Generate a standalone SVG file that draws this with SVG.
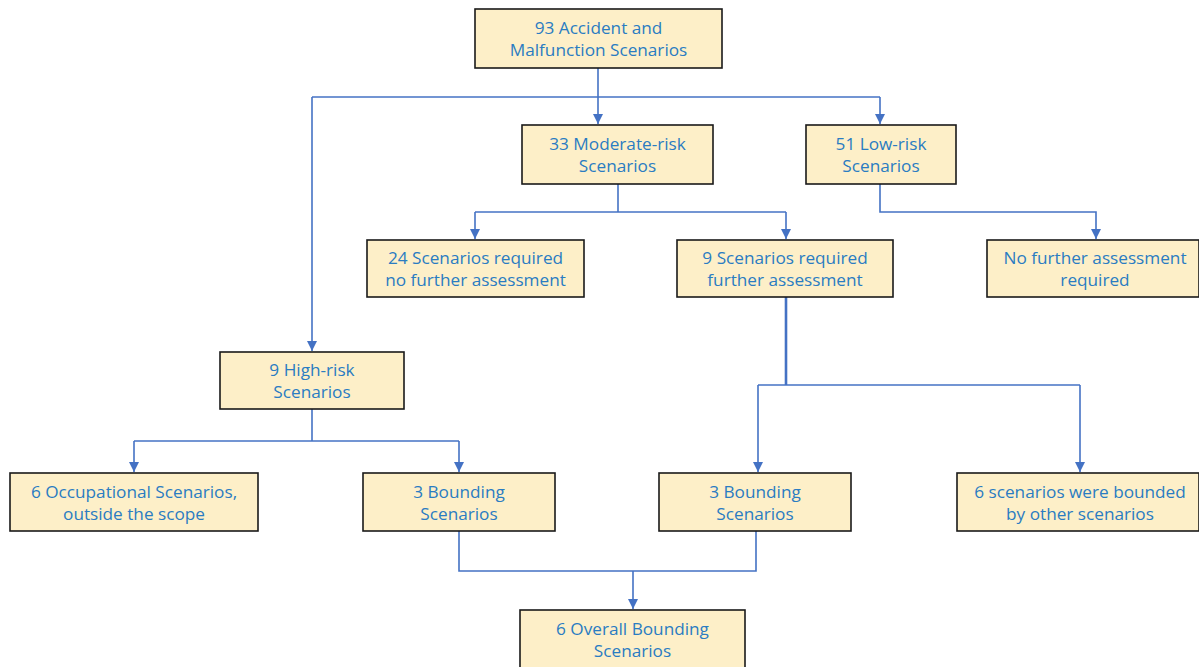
<svg xmlns="http://www.w3.org/2000/svg" width="1199" height="667" viewBox="0 0 1199 667">
<defs>
<style>
.box{fill:#FDEFC8;stroke:#1a1a1a;stroke-width:1.6}
.t{font-family:"Open Sans","Noto Sans","Liberation Sans",sans-serif;font-size:17.2px;fill:#2A7CC2;text-anchor:middle}
.c{fill:none;stroke:#4472C4;stroke-width:1.6}
</style>
<marker id="a" viewBox="0 0 10 10" refX="10" refY="5" markerWidth="10" markerHeight="10" markerUnits="userSpaceOnUse" orient="auto">
<path d="M0,0 L10,5 L0,10 z" fill="#4472C4"/>
</marker>
</defs>
<rect width="1199" height="667" fill="#fff"/>
<g id="connectors">
<path class="c" d="M598,68 V124" marker-end="url(#a)"/>
<path class="c" d="M312,97 H880"/>
<path class="c" d="M312,97 V351" marker-end="url(#a)"/>
<path class="c" d="M880,97 V124" marker-end="url(#a)"/>
<path class="c" d="M618,184 V212"/>
<path class="c" d="M475,212 H786"/>
<path class="c" d="M475,212 V239" marker-end="url(#a)"/>
<path class="c" d="M786,212 V239" marker-end="url(#a)"/>
<path class="c" d="M880,184 V212 H1096 V239" marker-end="url(#a)"/>
<path class="c" d="M786,297 V385" style="stroke-width:2.6"/>
<path class="c" d="M758,385 H1080"/>
<path class="c" d="M758,385 V472" marker-end="url(#a)"/>
<path class="c" d="M1080,385 V472" marker-end="url(#a)"/>
<path class="c" d="M312,409 V441"/>
<path class="c" d="M134,441 H459"/>
<path class="c" d="M134,441 V472" marker-end="url(#a)"/>
<path class="c" d="M459,441 V472" marker-end="url(#a)"/>
<path class="c" d="M459,531 V571 H756 V531"/>
<path class="c" d="M633,571 V609" marker-end="url(#a)"/>
</g>
<g id="n1"><rect class="box" x="475" y="9" width="247" height="59"/><text class="t" x="598.5" y="33.5">93 Accident and</text><text class="t" x="598.5" y="55.5">Malfunction Scenarios</text></g>
<g id="n2"><rect class="box" x="522" y="125" width="191" height="59"/><text class="t" x="617.5" y="149.5">33 Moderate-risk</text><text class="t" x="617.5" y="171.5">Scenarios</text></g>
<g id="n3"><rect class="box" x="806" y="125" width="150" height="59"/><text class="t" x="881" y="149.5">51 Low-risk</text><text class="t" x="881" y="171.5">Scenarios</text></g>
<g id="n4"><rect class="box" x="367" y="240" width="217" height="57"/><text class="t" x="475.5" y="263.5">24 Scenarios required</text><text class="t" x="475.5" y="285.5">no further assessment</text></g>
<g id="n5"><rect class="box" x="677" y="240" width="216" height="57"/><text class="t" x="785" y="263.5">9 Scenarios required</text><text class="t" x="785" y="285.5">further assessment</text></g>
<g id="n6"><rect class="box" x="987" y="240" width="212" height="57"/><text class="t" x="1095" y="263.5">No further assessment</text><text class="t" x="1095" y="285.5">required</text></g>
<g id="n7"><rect class="box" x="220" y="352" width="184" height="57"/><text class="t" x="312" y="375.5">9 High-risk</text><text class="t" x="312" y="397.5">Scenarios</text></g>
<g id="n8"><rect class="box" x="10" y="473" width="248" height="58"/><text class="t" x="134" y="497.5">6 Occupational Scenarios,</text><text class="t" x="134" y="519.5">outside the scope</text></g>
<g id="n9"><rect class="box" x="363" y="473" width="192" height="58"/><text class="t" x="459" y="497.5">3 Bounding</text><text class="t" x="459" y="519.5">Scenarios</text></g>
<g id="n10"><rect class="box" x="659" y="473" width="192" height="58"/><text class="t" x="755" y="497.5">3 Bounding</text><text class="t" x="755" y="519.5">Scenarios</text></g>
<g id="n11"><rect class="box" x="957" y="473" width="242" height="58"/><text class="t" x="1080" y="497.5">6 scenarios were bounded</text><text class="t" x="1080" y="519.5">by other scenarios</text></g>
<g id="n12"><rect class="box" x="520" y="610" width="225" height="62"/><text class="t" x="632.5" y="634.5">6 Overall Bounding</text><text class="t" x="632.5" y="656.5">Scenarios</text></g>
</svg>
